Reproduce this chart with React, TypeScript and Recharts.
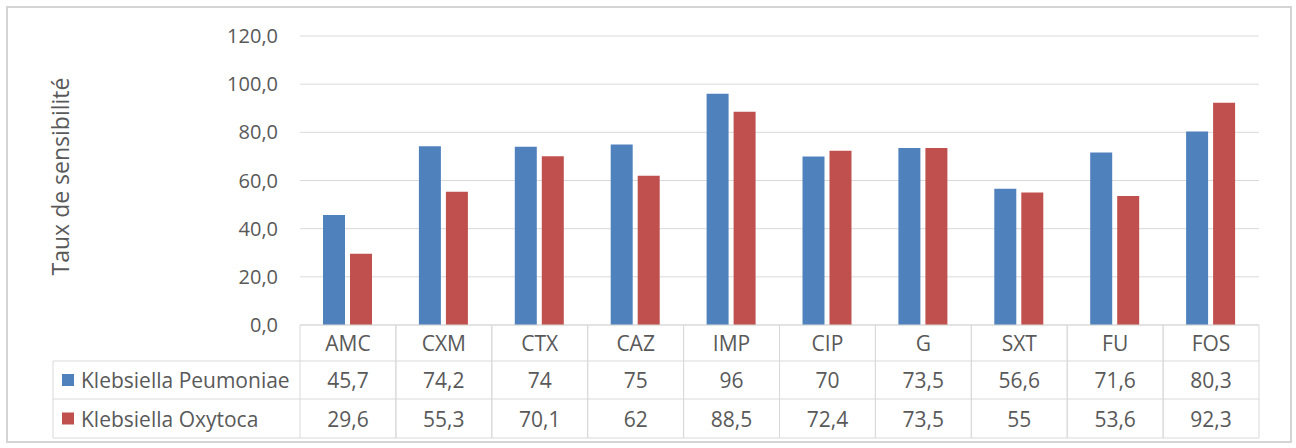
import React from "react";
import { BarChart, Bar, XAxis, YAxis, CartesianGrid } from "recharts";

const CATEGORIES = ["AMC", "CXM", "CTX", "CAZ", "IMP", "CIP", "G", "SXT", "FU", "FOS"];
const PNEUMONIAE = [45.7, 74.2, 74, 75, 96, 70, 73.5, 56.6, 71.6, 80.3];
const OXYTOCA = [29.6, 55.3, 70.1, 62, 88.5, 72.4, 73.5, 55, 53.6, 92.3];
const Y_TICKS = [0, 20, 40, 60, 80, 100, 120];

const SERIES = [
  { key: "kp", name: "Klebsiella Peumoniae", color: "#4f81bd", values: PNEUMONIAE },
  { key: "ko", name: "Klebsiella Oxytoca", color: "#c0504d", values: OXYTOCA },
];

const FONT = "'Open Sans', sans-serif";
const TEXT = "#595959";
const LINE = "#d9d9d9";
const ROWS = [36, 38, 39];
const LEGEND_LEFT = 45;

const data = CATEGORIES.map((c, i) => ({ name: c, kp: PNEUMONIAE[i], ko: OXYTOCA[i] }));

const fmt = (v: number) => String(v).replace(".", ",");

function TableTick(props: any) {
  const { x, y, index, width, payload } = props;
  const cellW = (width ?? 959) / CATEGORIES.length;
  const left = x - cellW / 2;
  const right = x + cellW / 2;
  const r1 = y + ROWS[0];
  const r2 = r1 + ROWS[1];
  const bottom = r2 + ROWS[2];
  return (
    <g>
      <line x1={left} x2={right} y1={y} y2={y} stroke={LINE} />
      <line x1={left} x2={right} y1={r1} y2={r1} stroke={LINE} />
      <line x1={left} x2={right} y1={r2} y2={r2} stroke={LINE} />
      <line x1={left} x2={right} y1={bottom} y2={bottom} stroke={LINE} />
      <line x1={left} x2={left} y1={y} y2={bottom} stroke={LINE} />
      <line x1={right} x2={right} y1={y} y2={bottom} stroke={LINE} />
      <text x={x} y={y + ROWS[0] / 2} textAnchor="middle" dominantBaseline="central"
        fill={TEXT} fontSize={21} fontFamily={FONT}>{payload.value}</text>
      {SERIES.map((s, si) => (
        <text key={s.key} x={x} y={(si === 0 ? r1 : r2) + ROWS[si + 1] / 2}
          textAnchor="middle" dominantBaseline="central" fill={TEXT} fontSize={21} fontFamily={FONT}>
          {fmt(s.values[index])}
        </text>
      ))}
      {index === 0 && (
        <g>
          <line x1={LEGEND_LEFT} x2={left} y1={r1} y2={r1} stroke={LINE} />
          <line x1={LEGEND_LEFT} x2={left} y1={r2} y2={r2} stroke={LINE} />
          <line x1={LEGEND_LEFT} x2={left} y1={bottom} y2={bottom} stroke={LINE} />
          <line x1={LEGEND_LEFT} x2={LEGEND_LEFT} y1={r1} y2={bottom} stroke={LINE} />
          {SERIES.map((s, si) => {
            const cy = (si === 0 ? r1 : r2) + ROWS[si + 1] / 2;
            return (
              <g key={s.key}>
                <rect x={LEGEND_LEFT + 9} y={cy - 6} width={12} height={12} fill={s.color} />
                <text x={LEGEND_LEFT + 28} y={cy} dominantBaseline="central" fill={TEXT}
                  fontSize={21} fontFamily={FONT}>{s.name}</text>
              </g>
            );
          })}
        </g>
      )}
    </g>
  );
}

function YLabel(props: any) {
  const { viewBox } = props;
  const cx = viewBox.x + 52;
  const cy = viewBox.y + viewBox.height / 2 - 4;
  return (
    <text x={cx} y={cy} transform={`rotate(-90, ${cx}, ${cy})`} textAnchor="middle"
      dominantBaseline="central" fill={TEXT} fontSize={23} fontFamily={FONT}>
      Taux de sensibilité
    </text>
  );
}

export default function App() {
  return (
    <div style={{ position: "absolute", left: 6, top: 6, width: 1286, height: 437, boxSizing: "border-box",
      border: "2px solid #d4d4d4", background: "#fff" }}>
      <BarChart width={1280} height={432} data={data} barSize={22} barGap={5}
        margin={{ top: 28, right: 29, bottom: 2, left: 0 }}>
        <CartesianGrid vertical={false} stroke={LINE} />
        <YAxis width={292} domain={[0, 120]} ticks={Y_TICKS} axisLine={false} tickLine={false}
          tickSize={6} tickMargin={16} tickFormatter={(v: number) => v.toFixed(1).replace(".", ",")}
          tick={{ fill: TEXT, fontSize: 20, fontFamily: FONT }} label={<YLabel />} />
        <XAxis dataKey="name" height={113} interval={0} axisLine={false} tickLine={false}
          tickSize={0} tickMargin={0} tick={<TableTick />} />
        {SERIES.map((s) => (
          <Bar key={s.key} dataKey={s.key} name={s.name} fill={s.color} isAnimationActive={false} />
        ))}
      </BarChart>
    </div>
  );
}
